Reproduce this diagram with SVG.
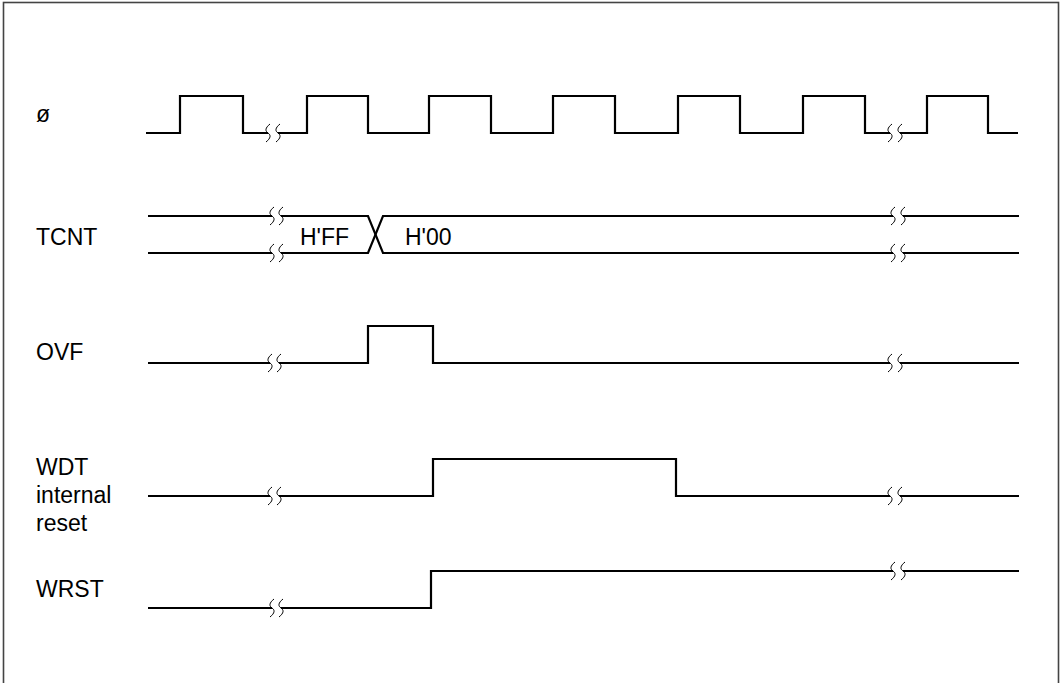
<svg xmlns="http://www.w3.org/2000/svg" width="1063" height="683" viewBox="0 0 1063 683">
<style>
.frame{fill:none;stroke:#444;stroke-width:1.6}
.w{fill:none;stroke:#000;stroke-width:2.2;stroke-linejoin:miter;stroke-linecap:butt}
.brk{fill:none;stroke:#000;stroke-width:1}
.lbl{font-family:"Liberation Sans",Arial,sans-serif;font-size:23px;fill:#000}
</style>
<defs>
<path id="sq" d="M 2,-9 C -3,-5 -3,-2 0,0 C 3,2 3,5 -2,9"/>
</defs>
<rect class="frame" x="3.5" y="2.5" width="1055" height="700"/>
<g id="labels">
<text class="lbl" x="36" y="122">ø</text>
<text class="lbl" x="36" y="245">TCNT</text>
<text class="lbl" x="36" y="360">OVF</text>
<text class="lbl" x="36" y="475">WDT</text>
<text class="lbl" x="36" y="503">internal</text>
<text class="lbl" x="36" y="531">reset</text>
<text class="lbl" x="36" y="597">WRST</text>
</g>
<g id="clock">
<path class="w" d="M146,133 H180 V96 H243 V133 H268"/>
<path class="w" d="M278,133 H307 V96 H368 V133 H429 V96 H491 V133 H553 V96 H615 V133 H678 V96 H740 V133 H803 V96 H865 V133 H890"/>
<path class="w" d="M900,133 H927 V96 H988 V133 H1018"/>
<use href="#sq" class="brk" x="268" y="133"/>
<use href="#sq" class="brk" x="278" y="133"/>
<use href="#sq" class="brk" x="890" y="133"/>
<use href="#sq" class="brk" x="900" y="133"/>
</g>
<g id="tcnt">
<path class="w" d="M148,216 H272"/>
<path class="w" d="M148,253 H272"/>
<path class="w" d="M281,216 H368 L383,253 H893"/>
<path class="w" d="M281,253 H368 L383,216 H893"/>
<path class="w" d="M903,216 H1019"/>
<path class="w" d="M903,253 H1019"/>
<use href="#sq" class="brk" x="272" y="216"/>
<use href="#sq" class="brk" x="281" y="216"/>
<use href="#sq" class="brk" x="272" y="253"/>
<use href="#sq" class="brk" x="281" y="253"/>
<use href="#sq" class="brk" x="893" y="216"/>
<use href="#sq" class="brk" x="903" y="216"/>
<use href="#sq" class="brk" x="893" y="253"/>
<use href="#sq" class="brk" x="903" y="253"/>
<text class="lbl" x="300" y="245">H'FF</text>
<text class="lbl" x="405" y="245">H'00</text>
</g>
<g id="ovf">
<path class="w" d="M148,363 H270"/>
<path class="w" d="M279,363 H368 V326 H433 V363 H890"/>
<path class="w" d="M900,363 H1019"/>
<use href="#sq" class="brk" x="270" y="363"/>
<use href="#sq" class="brk" x="279" y="363"/>
<use href="#sq" class="brk" x="890" y="363"/>
<use href="#sq" class="brk" x="900" y="363"/>
</g>
<g id="wdt">
<path class="w" d="M148,496 H270"/>
<path class="w" d="M279,496 H433 V459 H676 V496 H890"/>
<path class="w" d="M900,496 H1019"/>
<use href="#sq" class="brk" x="270" y="496"/>
<use href="#sq" class="brk" x="279" y="496"/>
<use href="#sq" class="brk" x="890" y="496"/>
<use href="#sq" class="brk" x="900" y="496"/>
</g>
<g id="wrst">
<path class="w" d="M148,608 H272"/>
<path class="w" d="M281,608 H431 V571 H893"/>
<path class="w" d="M903,571 H1019"/>
<use href="#sq" class="brk" x="272" y="608"/>
<use href="#sq" class="brk" x="281" y="608"/>
<use href="#sq" class="brk" x="893" y="571"/>
<use href="#sq" class="brk" x="903" y="571"/>
</g>
</svg>
